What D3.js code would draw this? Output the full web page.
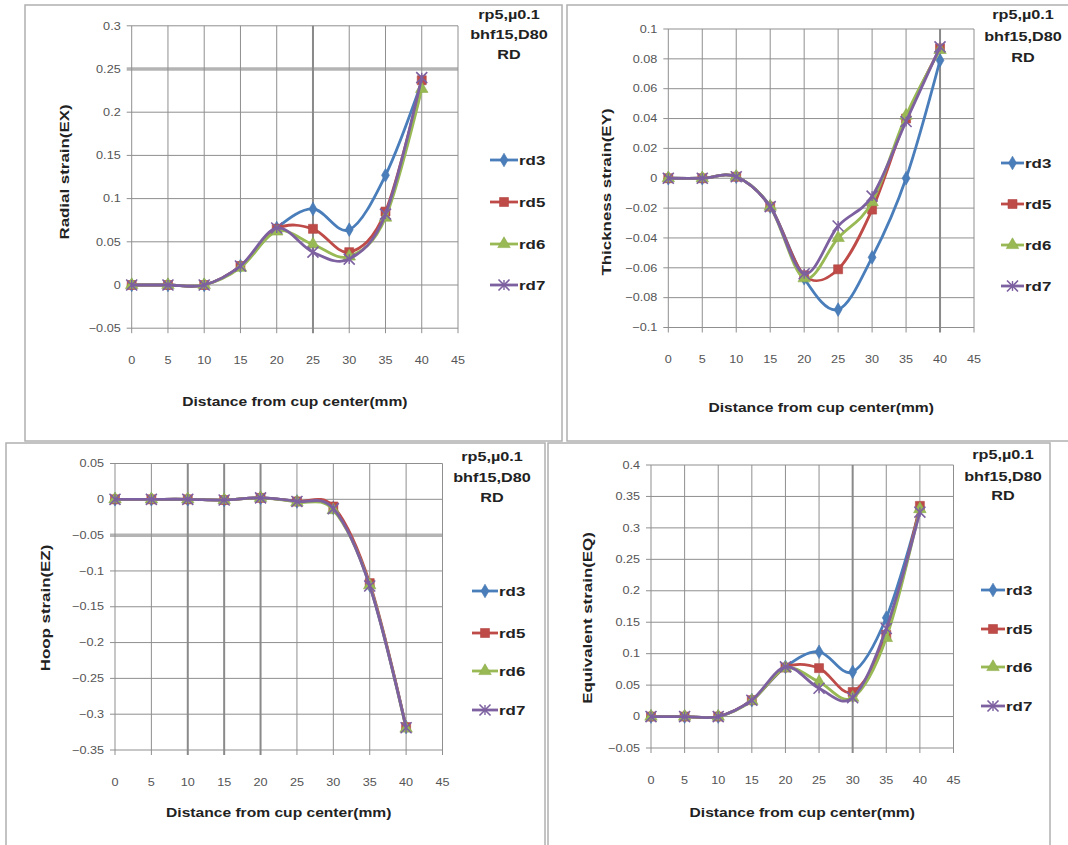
<!DOCTYPE html>
<html><head><meta charset="utf-8">
<script src="https://cdn.jsdelivr.net/npm/d3@7"></script>
<style>body{margin:0;background:#fff}svg{display:block}</style>
</head><body>
<svg id="chart" width="1068" height="845"></svg>
<script>
// ---------------- DATA ----------------
const distance = [0, 5, 10, 15, 20, 25, 30, 35, 40];
const xTickValues = [0, 5, 10, 15, 20, 25, 30, 35, 40, 45];
const seriesNames = ["rd3", "rd5", "rd6", "rd7"];
const cornerTitle = ["rp5,\u00b50.1", "bhf15,D80", "RD"];
const xTitle = "Distance from cup center(mm)";

const radialRd3 = [0, 0, 0, 0.022, 0.066, 0.088, 0.064, 0.127, 0.235];
const radialRd5 = [0, 0, 0, 0.022, 0.065, 0.065, 0.038, 0.085, 0.237];
const radialRd6 = [0, 0, 0, 0.020, 0.062, 0.047, 0.033, 0.078, 0.227];
const radialRd7 = [0, 0, 0, 0.022, 0.066, 0.038, 0.030, 0.082, 0.240];
const radialTicks = [-0.05, 0, 0.05, 0.1, 0.15, 0.2, 0.25, 0.3];

const thickRd3 = [0, 0, 0.001, -0.019, -0.067, -0.088, -0.053, 0.000, 0.079];
const thickRd5 = [0, 0, 0.001, -0.019, -0.065, -0.061, -0.021, 0.040, 0.087];
const thickRd6 = [0, 0, 0.001, -0.019, -0.067, -0.040, -0.016, 0.042, 0.086];
const thickRd7 = [0, 0, 0.001, -0.019, -0.064, -0.032, -0.012, 0.038, 0.088];
const thickTicks = [-0.1, -0.08, -0.06, -0.04, -0.02, 0, 0.02, 0.04, 0.06, 0.08, 0.1];

const hoopRd3 = [0, 0, 0, -0.001, 0.002, -0.003, -0.012, -0.120, -0.318];
const hoopRd5 = [0, 0, 0, -0.001, 0.002, -0.003, -0.010, -0.117, -0.318];
const hoopRd6 = [0, 0, 0, -0.001, 0.002, -0.004, -0.015, -0.120, -0.320];
const hoopRd7 = [0, 0, 0, -0.001, 0.002, -0.003, -0.013, -0.121, -0.319];
const hoopTicks = [-0.35, -0.3, -0.25, -0.2, -0.15, -0.1, -0.05, 0, 0.05];

const equivRd3 = [0, 0, 0, 0.026, 0.079, 0.103, 0.071, 0.157, 0.330];
const equivRd5 = [0, 0, 0, 0.026, 0.078, 0.077, 0.039, 0.130, 0.335];
const equivRd6 = [0, 0, 0, 0.025, 0.077, 0.055, 0.030, 0.125, 0.330];
const equivRd7 = [0, 0, 0, 0.026, 0.079, 0.045, 0.030, 0.140, 0.325];
const equivTicks = [-0.05, 0, 0.05, 0.1, 0.15, 0.2, 0.25, 0.3, 0.35, 0.4];

// ---------------- STYLE / LAYOUT ----------------
const colors = ["#4a7ebb", "#be4b48", "#98b954", "#7d60a0"];
const markers = ["diamond", "square", "triangle", "times"];

const panels = [
  { yTitle: "Radial strain(EX)", series: [radialRd3, radialRd5, radialRd6, radialRd7], ticks: radialTicks,
    frame: [25, 5, 537, 436], x: [131.7, 458], y: [328.2, 25.8],
    titleX: 509, titleY: [15, 35, 55], legX: [490, 518], legY: [160, 202, 244, 285],
    yTitlePos: [64, 172], xTitleY: 402, hEmph: [0.25], vEmph: [25] },
  { yTitle: "Thickness strain(EY)", series: [thickRd3, thickRd5, thickRd6, thickRd7], ticks: thickTicks,
    frame: [567, 5, 520, 436], x: [668.3, 974], y: [327.5, 29],
    titleX: 1023, titleY: [15, 37, 58], legX: [1001, 1024], legY: [163, 204, 245, 286],
    yTitlePos: [606, 192], xTitleY: 408, hEmph: [], vEmph: [40] },
  { yTitle: "Hoop strain(EZ)", series: [hoopRd3, hoopRd5, hoopRd6, hoopRd7], ticks: hoopTicks,
    frame: [6, 443, 539, 420], x: [115, 442.5], y: [750, 463.5],
    titleX: 492, titleY: [457, 478, 498], legX: [472, 498], legY: [591, 633, 671, 710],
    yTitlePos: [45, 608], xTitleY: 813, hEmph: [-0.05], vEmph: [10, 15, 20] },
  { yTitle: "Equivalent strain(EQ)", series: [equivRd3, equivRd5, equivRd6, equivRd7], ticks: equivTicks,
    frame: [548, 443, 502, 420], x: [651, 953.5], y: [748, 465],
    titleX: 1003, titleY: [455, 477, 496], legX: [981, 1005], legY: [590, 629, 667, 706],
    yTitlePos: [587, 618], xTitleY: 813, hEmph: [], vEmph: [30] }
];

const FONT = "'Liberation Sans', Arial, sans-serif";
const svg = d3.select("#chart");

function stretchedText(g, x, y, str, o) {
  return g.append("text")
    .attr("transform", `translate(${x},${y}) rotate(${o.rot || 0}) scale(${o.sx || 1},1)`)
    .attr("text-anchor", o.anchor || "middle")
    .attr("dominant-baseline", "central")
    .attr("font-family", FONT)
    .attr("font-size", o.size)
    .attr("font-weight", o.weight || "normal")
    .attr("fill", o.fill || "#222")
    .text(str);
}

function drawMarker(g, type, color, x, y, s) {
  if (type === "times") {
    const sym = d3.symbol().type(d3.symbolTimes || d3.symbolCross).size(s * 9);
    g.append("path").attr("d", sym()).attr("transform", `translate(${x},${y})`)
      .attr("fill", "none").attr("stroke", color).attr("stroke-width", 1.6);
    g.append("line").attr("x1", x).attr("x2", x).attr("y1", y - s * 0.55).attr("y2", y + s * 0.55)
      .attr("stroke", color).attr("stroke-width", 1.4);
    return;
  }
  const t = type === "diamond" ? d3.symbolDiamond : type === "square" ? d3.symbolSquare : d3.symbolTriangle;
  const size = type === "diamond" ? s * 6 : type === "square" ? s * 9 : s * 7.5;
  g.append("path").attr("d", d3.symbol().type(t).size(size)()).attr("transform", `translate(${x},${y})`)
    .attr("fill", color).attr("stroke", d3.color(color).darker(0.2)).attr("stroke-width", 0.6);
}

panels.forEach(p => {
  const g = svg.append("g");
  const [fx, fy, fw, fh] = p.frame;
  g.append("rect").attr("x", fx).attr("y", fy).attr("width", fw).attr("height", fh)
    .attr("fill", "#fff").attr("stroke", "#b0b0b0").attr("stroke-width", 1.5);

  const yDomain = d3.extent(p.ticks);
  const xs = d3.scaleLinear().domain([0, 45]).range(p.x);
  const ys = d3.scaleLinear().domain(yDomain).range(p.y);

  // horizontal gridlines
  p.ticks.forEach(v => {
    const emph = p.hEmph.some(e => Math.abs(e - v) < 1e-9);
    g.append("line").attr("x1", p.x[0] - 5).attr("x2", p.x[1]).attr("y1", ys(v)).attr("y2", ys(v))
      .attr("stroke", emph ? "#b4b4b4" : "#8f8f8f").attr("stroke-width", emph ? 3.5 : 1);
  });
  // vertical gridlines
  xTickValues.forEach(v => {
    const emph = p.vEmph.includes(v);
    g.append("line").attr("x1", xs(v)).attr("x2", xs(v)).attr("y1", p.y[1]).attr("y2", p.y[0] + 5)
      .attr("stroke", emph ? "#8a8a8a" : "#8f8f8f").attr("stroke-width", emph ? 2 : 1);
  });

  // tick labels
  p.ticks.forEach(v => {
    stretchedText(g, p.x[0] - 11, ys(v), d3.format("~g")(v), { size: 11, sx: 1.15, anchor: "end", fill: "#555" });
  });
  xTickValues.forEach(v => {
    stretchedText(g, xs(v), p.y[0] + 32, String(v), { size: 11, sx: 1.15, fill: "#555" });
  });

  // axis titles
  stretchedText(g, (p.x[0] + p.x[1]) / 2, p.xTitleY, xTitle, { size: 12.5, sx: 1.25, weight: "bold" });
  stretchedText(g, p.yTitlePos[0], p.yTitlePos[1], p.yTitle, { size: 13, sx: 1.3, weight: "bold", rot: -90 });

  // corner title
  cornerTitle.forEach((s, i) => {
    stretchedText(g, p.titleX, p.titleY[i], s, { size: 12.5, sx: 1.3, weight: "bold" });
  });

  // series
  const line = d3.line().x((d, i) => xs(distance[i])).y(d => ys(d)).curve(d3.curveCardinal.tension(0));
  p.series.forEach((vals, si) => {
    g.append("path").attr("d", line(vals)).attr("fill", "none")
      .attr("stroke", colors[si]).attr("stroke-width", 2.8).attr("stroke-linejoin", "round");
    vals.forEach((v, i) => drawMarker(g, markers[si], colors[si], xs(distance[i]), ys(v), 9));
  });

  // legend
  seriesNames.forEach((name, si) => {
    const y = p.legY[si];
    g.append("line").attr("x1", p.legX[0]).attr("x2", p.legX[1]).attr("y1", y).attr("y2", y)
      .attr("stroke", colors[si]).attr("stroke-width", 2.8);
    drawMarker(g, markers[si], colors[si], (p.legX[0] + p.legX[1]) / 2, y, 9);
    stretchedText(g, p.legX[1] + 1, y, name, { size: 13, sx: 1.3, weight: "bold", anchor: "start" });
  });
});
</script>
</body></html>
